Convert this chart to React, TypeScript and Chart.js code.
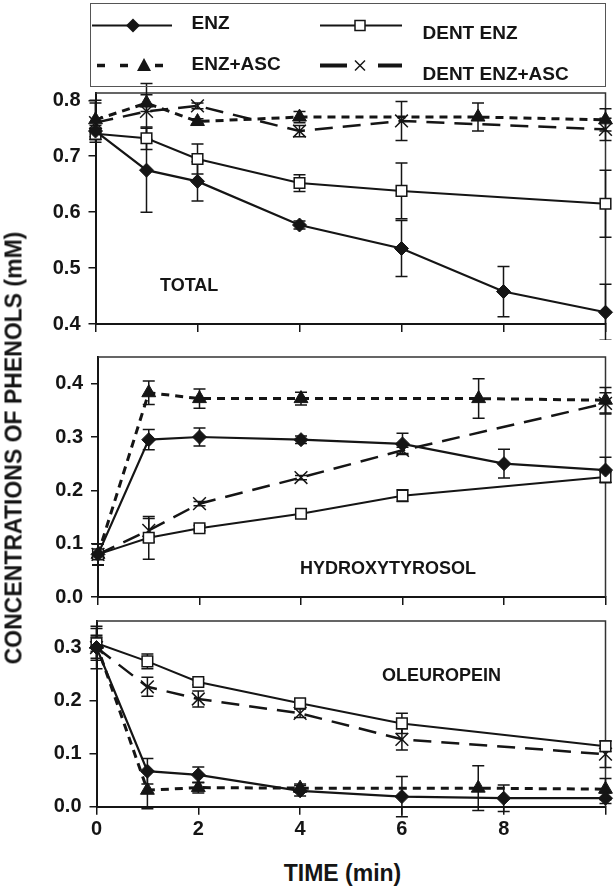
import React, { useEffect, useRef } from 'react';
import { Chart, registerables } from 'chart.js';
Chart.register(...registerables);

const FONT = '"Liberation Sans", Arial, Helvetica, sans-serif';
const INK = '#151515';

// sampling times (min)
const T_ENZ = [0, 1, 2, 4, 6, 8, 10];
const T_DENT = [0, 1, 2, 4, 6, 10];
const T_ASC = [0, 1, 2, 4, 7.5, 10];
const T_DENT_ASC = [0, 1, 2, 4, 6, 10];

// TOTAL
const TOTAL_ENZ = [0.745, 0.675, 0.655, 0.577, 0.535, 0.458, 0.421];
const TOTAL_ENZ_ERR = [0.01, 0.075, 0.035, 0.007, 0.05, 0.045, 0.05];
const TOTAL_DENT = [0.74, 0.732, 0.695, 0.652, 0.638, 0.615];
const TOTAL_DENT_ERR = [0.01, 0.02, 0.027, 0.015, 0.05, 0.06];
const TOTAL_ASC = [0.765, 0.795, 0.762, 0.77, 0.77, 0.765];
const TOTAL_ASC_ERR = [0.035, 0.015, 0.005, 0.01, 0.025, 0.02];
const TOTAL_DENT_ASC = [0.76, 0.78, 0.79, 0.745, 0.763, 0.748];
const TOTAL_DENT_ASC_ERR = [0.035, 0.05, 0.005, 0.01, 0.035, 0.02];

// HYDROXYTYROSOL
const HT_ENZ = [0.08, 0.295, 0.3, 0.295, 0.287, 0.25, 0.238];
const HT_ENZ_ERR = [0.02, 0.019, 0.017, 0.007, 0.02, 0.027, 0.024];
const HT_DENT = [0.08, 0.111, 0.129, 0.156, 0.19, 0.225];
const HT_DENT_ERR = [0.02, 0.04, 0.005, 0.005, 0.011, 0.01];
const HT_ASC = [0.08, 0.383, 0.372, 0.372, 0.372, 0.369];
const HT_ASC_ERR = [0.02, 0.022, 0.018, 0.012, 0.037, 0.024];
const HT_DENT_ASC = [0.08, 0.125, 0.175, 0.224, 0.275, 0.363];
const HT_DENT_ASC_ERR = [0.02, 0.022, 0.004, 0.004, 0.006, 0.02];

// OLEUROPEIN
const OL_ENZ = [0.3, 0.067, 0.06, 0.03, 0.019, 0.016, 0.016];
const OL_ENZ_ERR = [0.02, 0.024, 0.015, 0.01, 0.038, 0.025, 0.01];
const OL_DENT = [0.308, 0.274, 0.235, 0.195, 0.157, 0.114];
const OL_DENT_ERR = [0.015, 0.014, 0.005, 0.008, 0.019, 0.01];
const OL_ASC = [0.306, 0.031, 0.036, 0.035, 0.035, 0.033];
const OL_ASC_ERR = [0.03, 0.035, 0.01, 0.008, 0.042, 0.02];
const OL_DENT_ASC = [0.3, 0.226, 0.203, 0.176, 0.127, 0.099];
const OL_DENT_ASC_ERR = [0.04, 0.018, 0.015, 0.008, 0.02, 0.025];

const X_TICK_LABELS = [0, 2, 4, 6, 8];
const SERIES_NAMES = ['ENZ', 'DENT ENZ', 'ENZ+ASC', 'DENT ENZ+ASC'];

const errorBarPlugin = {
  id: 'errorBars',
  beforeDatasetsDraw(chart: any) {
    const ctx = chart.ctx;
    const xs = chart.scales.x;
    const ys = chart.scales.y;
    ctx.save();
    ctx.strokeStyle = INK;
    ctx.lineWidth = 1.5;
    ctx.setLineDash([]);
    chart.data.datasets.forEach((ds: any) => {
      ds.data.forEach((p: any, i: number) => {
        const e = ds.errors ? ds.errors[i] : 0;
        if (!e) return;
        const x = xs.getPixelForValue(p.x);
        const y1 = ys.getPixelForValue(p.y + e);
        const y2 = ys.getPixelForValue(p.y - e);
        ctx.beginPath();
        ctx.moveTo(x, y1);
        ctx.lineTo(x, y2);
        ctx.moveTo(x - 6, y1);
        ctx.lineTo(x + 6, y1);
        ctx.moveTo(x - 6, y2);
        ctx.lineTo(x + 6, y2);
        ctx.stroke();
      });
    });
    ctx.restore();
  },
};

const boxPlugin = {
  id: 'frameBox',
  beforeDatasetsDraw(chart: any) {
    const { ctx, chartArea } = chart;
    ctx.save();
    ctx.strokeStyle = '#333';
    ctx.lineWidth = 1.5;
    ctx.beginPath();
    ctx.moveTo(chartArea.left, chartArea.top);
    ctx.lineTo(chartArea.right, chartArea.top);
    ctx.lineTo(chartArea.right, chartArea.bottom);
    ctx.stroke();
    ctx.restore();
  },
};

function pts(ts: number[], vs: number[]) {
  return ts.map((t, i) => ({ x: t, y: vs[i] }));
}

function makeDatasets(enz: number[], enzE: number[], dent: number[], dentE: number[], asc: number[], ascE: number[], da: number[], daE: number[]) {
  return [
    {
      label: SERIES_NAMES[0], data: pts(T_ENZ, enz), errors: enzE,
      borderColor: INK, borderWidth: 2.2, pointStyle: 'rectRot', pointRadius: 7,
      pointBackgroundColor: INK, pointBorderColor: INK, pointBorderWidth: 1, clip: false, tension: 0,
    },
    {
      label: SERIES_NAMES[1], data: pts(T_DENT, dent), errors: dentE,
      borderColor: INK, borderWidth: 2, pointStyle: 'rect', pointRadius: 7.5,
      pointBackgroundColor: '#fff', pointBorderColor: INK, pointBorderWidth: 1.5, clip: false, tension: 0,
    },
    {
      label: SERIES_NAMES[2], data: pts(T_ASC, asc), errors: ascE,
      borderColor: INK, borderWidth: 3, borderDash: [8, 6], pointStyle: 'triangle', pointRadius: 8,
      pointBackgroundColor: INK, pointBorderColor: INK, pointBorderWidth: 1, clip: false, tension: 0,
    },
    {
      label: SERIES_NAMES[3], data: pts(T_DENT_ASC, da), errors: daE,
      borderColor: INK, borderWidth: 2.5, borderDash: [18, 10], pointStyle: 'crossRot', pointRadius: 9,
      pointBackgroundColor: INK, pointBorderColor: INK, pointBorderWidth: 1.5, clip: false, tension: 0,
    },
  ];
}

type PanelProps = {
  top: number; height: number; plotLeft: number; plotRight: number; padTop: number; xAxisH: number;
  yMin: number; yMax: number; showX: boolean; datasets: any[];
};

function Panel(p: PanelProps) {
  const ref = useRef<HTMLCanvasElement>(null);
  useEffect(() => {
    if (!ref.current) return;
    const tickFont = { family: FONT, size: 20, weight: 'bold' as const };
    const chart = new Chart(ref.current, {
      type: 'line',
      data: { datasets: p.datasets },
      options: {
        animation: false,
        responsive: false,
        maintainAspectRatio: false,
        devicePixelRatio: 1,
        layout: { padding: { top: p.padTop, right: 616 - p.plotRight, left: 0, bottom: 0 } },
        plugins: { legend: { display: false }, tooltip: { enabled: false } },
        scales: {
          x: {
            type: 'linear', min: 0, max: 10,
            ticks: {
              stepSize: 2, display: p.showX, color: INK, font: tickFont, padding: 3,
              maxRotation: 0, autoSkip: false,
              callback: (v: any) => (X_TICK_LABELS.includes(Number(v)) ? String(v) : ''),
            },
            grid: { drawOnChartArea: false, drawTicks: true, tickLength: 8, color: INK, lineWidth: 1.5 },
            border: { display: true, color: INK, width: 2 },
            afterFit: (s: any) => { s.height = p.xAxisH; s.paddingLeft = 0; s.paddingRight = 0; },
          },
          y: {
            type: 'linear', min: p.yMin, max: p.yMax,
            ticks: {
              stepSize: 0.1, includeBounds: false, color: INK, font: tickFont, padding: 8,
              callback: (v: any) => Number(v).toFixed(1),
            },
            grid: { drawOnChartArea: false, drawTicks: true, tickLength: 7, color: INK, lineWidth: 1.5 },
            border: { display: true, color: INK, width: 2 },
            afterFit: (s: any) => { s.width = p.plotLeft; s.paddingTop = 0; s.paddingBottom = 0; },
          },
        },
      } as any,
      plugins: [boxPlugin, errorBarPlugin],
    });
    return () => chart.destroy();
  }, []);
  return (
    <div style={{ position: 'absolute', left: 0, top: p.top, width: 616, height: p.height }}>
      <canvas ref={ref} width={616} height={p.height} style={{ width: 616, height: p.height, display: 'block' }} />
    </div>
  );
}

const txt: React.CSSProperties = {
  position: 'absolute', fontFamily: FONT, fontWeight: 'bold', color: INK, lineHeight: 1, whiteSpace: 'nowrap',
};

function Legend() {
  return (
    <div style={{ position: 'absolute', left: 90, top: 3, width: 516, height: 84, border: '1.5px solid #555', boxSizing: 'border-box' }}>
      <svg width={516} height={84} style={{ position: 'absolute', left: -1.5, top: -1.5 }}>
        {/* ENZ */}
        <line x1={2} y1={22.5} x2={82} y2={22.5} stroke={INK} strokeWidth={2} />
        <polygon points="43,15.5 50,22.5 43,29.5 36,22.5" fill={INK} />
        {/* DENT ENZ */}
        <line x1={230} y1={22.5} x2={312} y2={22.5} stroke={INK} strokeWidth={2} />
        <rect x={265} y={17.5} width={10} height={10} fill="#fff" stroke={INK} strokeWidth={1.5} />
        {/* ENZ+ASC */}
        <line x1={7} y1={62.5} x2={15} y2={62.5} stroke={INK} strokeWidth={3.5} />
        <line x1={30} y1={62.5} x2={38} y2={62.5} stroke={INK} strokeWidth={3.5} />
        <polygon points="54,55 61,68 47,68" fill={INK} />
        <line x1={65} y1={62.5} x2={73} y2={62.5} stroke={INK} strokeWidth={3.5} />
        {/* DENT ENZ+ASC */}
        <line x1={230} y1={62.5} x2={257} y2={62.5} stroke={INK} strokeWidth={4} />
        <line x1={265} y1={57.5} x2={275} y2={67.5} stroke={INK} strokeWidth={1.5} />
        <line x1={275} y1={57.5} x2={265} y2={67.5} stroke={INK} strokeWidth={1.5} />
        <line x1={288} y1={62.5} x2={312} y2={62.5} stroke={INK} strokeWidth={4} />
      </svg>
      <div style={{ ...txt, fontSize: 19, left: 100.5, top: 9 }}>{SERIES_NAMES[0]}</div>
      <div style={{ ...txt, fontSize: 19, left: 331.5, top: 18.5 }}>{SERIES_NAMES[1]}</div>
      <div style={{ ...txt, fontSize: 19, left: 100.5, top: 49.5 }}>{SERIES_NAMES[2]}</div>
      <div style={{ ...txt, fontSize: 19, left: 331.5, top: 59.5 }}>{SERIES_NAMES[3]}</div>
    </div>
  );
}

export default function App() {
  return (
    <div style={{ position: 'absolute', left: 0, top: 0, width: 616, height: 888, background: '#fff', overflow: 'hidden' }}>
      <Panel top={80} height={260} plotLeft={95.5} plotRight={609.5} padTop={13} xAxisH={16}
        yMin={0.4} yMax={0.813} showX={false}
        datasets={makeDatasets(TOTAL_ENZ, TOTAL_ENZ_ERR, TOTAL_DENT, TOTAL_DENT_ERR, TOTAL_ASC, TOTAL_ASC_ERR, TOTAL_DENT_ASC, TOTAL_DENT_ASC_ERR)} />
      <Panel top={345} height={265} plotLeft={98} plotRight={609.5} padTop={12} xAxisH={13}
        yMin={0} yMax={0.45} showX={false}
        datasets={makeDatasets(HT_ENZ, HT_ENZ_ERR, HT_DENT, HT_DENT_ERR, HT_ASC, HT_ASC_ERR, HT_DENT_ASC, HT_DENT_ASC_ERR)} />
      <Panel top={610} height={250} plotLeft={96.5} plotRight={609.5} padTop={11} xAxisH={53.3}
        yMin={0} yMax={0.35} showX={true}
        datasets={makeDatasets(OL_ENZ, OL_ENZ_ERR, OL_DENT, OL_DENT_ERR, OL_ASC, OL_ASC_ERR, OL_DENT_ASC, OL_DENT_ASC_ERR)} />
      <Legend />
      <div style={{ ...txt, fontSize: 18, left: 160, top: 276 }}>TOTAL</div>
      <div style={{ ...txt, fontSize: 18, left: 300, top: 559 }}>HYDROXYTYROSOL</div>
      <div style={{ ...txt, fontSize: 18, left: 382, top: 666 }}>OLEUROPEIN</div>
      <div style={{ ...txt, fontSize: 23, left: 342.5, top: 862, transform: 'translateX(-50%)' }}>TIME (min)</div>
      <div style={{ ...txt, fontSize: 23, left: 14, top: 448, transform: 'translate(-50%, -50%) rotate(-90deg)' }}>
        CONCENTRATIONS OF PHENOLS (mM)
      </div>
    </div>
  );
}
